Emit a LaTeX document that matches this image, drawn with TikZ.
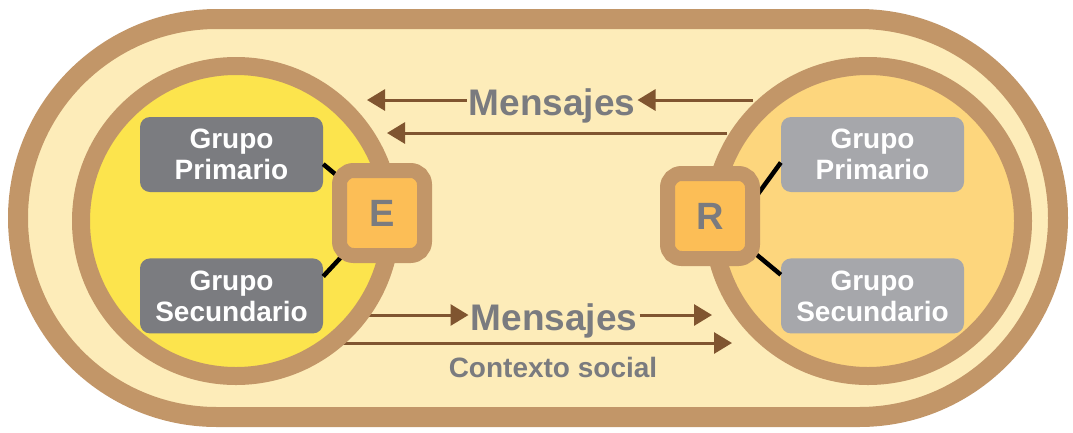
\documentclass[tikz,border=0pt]{standalone}
\usepackage{fontspec}
\setmainfont{Liberation Sans}
\usetikzlibrary{positioning,arrows.meta,calc}

\definecolor{ringbrown}{RGB}{194,150,104}
\definecolor{pale}{RGB}{253,236,185}
\definecolor{senderyellow}{RGB}{252,228,77}
\definecolor{receiverorange}{RGB}{253,214,125}
\definecolor{roleorange}{RGB}{252,190,86}
\definecolor{darkbox}{RGB}{123,124,128}
\definecolor{lightbox}{RGB}{166,167,171}
\definecolor{msggray}{RGB}{122,123,127}
\definecolor{arrowbrown}{RGB}{128,85,48}

\begin{document}
\begin{tikzpicture}[x=1pt,y=-1pt]
\tikzstyle{ring}=[circle, draw=ringbrown, line width=18pt, minimum size=310pt, inner sep=0pt]
\tikzstyle{grupo}=[rectangle, rounded corners=10pt, minimum width=183pt, minimum height=75pt, inner sep=0pt, text=white, align=center, font=\bfseries\fontsize{28}{31}\selectfont]
\tikzstyle{role}=[rectangle, rounded corners=14pt, draw=ringbrown, line width=15pt, fill=roleorange, minimum size=85pt, text=msggray, font=\bfseries\fontsize{38}{38}\selectfont]
\tikzstyle{link}=[line width=4.5pt, black]
\tikzstyle{flow}=[-{Triangle[length=18pt,width=21pt]}, line width=3pt, arrowbrown]
\tikzstyle{msg}=[text=msggray, font=\bfseries\fontsize{37}{37}\selectfont, text height=30pt, text depth=0pt, inner sep=2pt]
  \useasboundingbox (0,0) rectangle (1073,432);
  \draw[ringbrown, fill=pale, line width=20pt, rounded corners=198.9pt] (18,19) rectangle (1058,417);
  % messages between the two groups
  \coordinate (t1r) at (753,100);
  \coordinate (t1l) at (367,100);
  \coordinate (t2r) at (727,133);
  \coordinate (t2l) at (387,133);
  \coordinate (b1l) at (365,315);
  \coordinate (b1r) at (712,315);
  \coordinate (b2l) at (340,343);
  \coordinate (b2r) at (732,343);
  \node[msg] (msgtop) at (552,100) {Mensajes};
  \node[msg] (msgbot) at (554,315) {Mensajes};
  \node[text=msggray, font=\bfseries\fontsize{28}{28}\selectfont, anchor=base] (ctx) at (553,377) {Contexto social};
  \draw[flow] (t1r) -- (msgtop.east);
  \draw[flow] (msgtop.west) -- (t1l);
  \draw[flow] (t2r) -- (t2l);
  \draw[flow] (b1l) -- (msgbot.west);
  \draw[flow] (msgbot.east) -- (b1r);
  \draw[flow] (b2l) -- (b2r);
  % sender and receiver
  \node[ring, fill=senderyellow] (sender) at (236,221) {};
  \node[ring, fill=receiverorange] (receiver) at (868,221) {};
  \node[grupo, fill=darkbox] (primL) at (231.5,154.5) {Grupo\\Primario};
  \node[grupo, fill=darkbox] (secL) [below=66pt of primL] {Grupo\\Secundario};
  \node[grupo, fill=lightbox] (primR) at (872.5,154.5) {Grupo\\Primario};
  \node[grupo, fill=lightbox] (secR) [below=66pt of primR] {Grupo\\Secundario};
  \coordinate (Ec) at (382,213);
  \coordinate (Rc) at (710,216);
  \draw[link] (primL.-6) -- (Ec);
  \draw[link] (secL.12) -- (Ec);
  \draw[link] (primR.185) -- ($(Rc)+(32,0)$);
  \draw[link] (secR.167) -- (Rc);
  \node[role] (E) at (Ec) {E};
  \node[role] (R) at (Rc) {R};
\end{tikzpicture}
\end{document}
